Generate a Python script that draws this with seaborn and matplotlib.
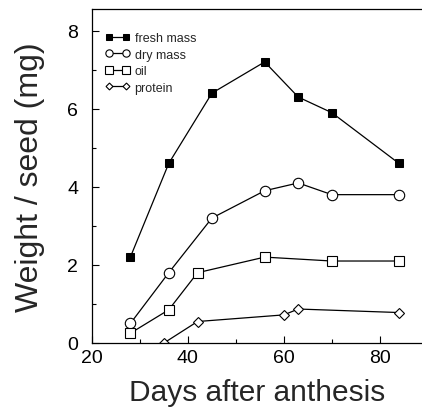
import matplotlib
matplotlib.use("Agg")
import matplotlib.pyplot as plt
import seaborn as sns
import pandas as pd
from matplotlib.ticker import MultipleLocator

# Data
fresh_days = [28, 36, 45, 56, 63, 70, 84]
fresh_mass = [2.2, 4.6, 6.4, 7.2, 6.3, 5.9, 4.6]
dry_days = [28, 36, 45, 56, 63, 70, 84]
dry_mass = [0.5, 1.8, 3.2, 3.9, 4.1, 3.8, 3.8]
oil_days = [28, 36, 42, 56, 70, 84]
oil_mass = [0.25, 0.85, 1.8, 2.2, 2.1, 2.1]
protein_days = [35, 42, 60, 63, 84]
protein_mass = [0.0, 0.55, 0.72, 0.87, 0.78]

x_ticks = [20, 40, 60, 80]
y_ticks = [0, 2, 4, 6, 8]

sns.set_style("ticks")
plt.rcParams['font.family'] = ['Liberation Sans', 'DejaVu Sans']

fig = plt.figure(figsize=(4.22, 4.10), dpi=100)
ax = fig.add_axes([0.218, 0.161, 0.782, 0.815])

common = dict(color='black', linewidth=0.9, ax=ax, estimator=None)
sns.lineplot(x=fresh_days, y=fresh_mass, marker='s', markersize=6,
             markerfacecolor='black', markeredgecolor='black', label='fresh mass', **common)
sns.lineplot(x=dry_days, y=dry_mass, marker='o', markersize=7.5,
             markerfacecolor='white', markeredgecolor='black', markeredgewidth=0.8,
             label='dry mass', **common)
sns.lineplot(x=oil_days, y=oil_mass, marker='s', markersize=7.5,
             markerfacecolor='white', markeredgecolor='black', markeredgewidth=0.8,
             label='oil', **common)
sns.lineplot(x=protein_days, y=protein_mass, marker='D', markersize=5,
             markerfacecolor='white', markeredgecolor='black', markeredgewidth=0.8,
             label='protein', **common)

ax.set_xlim(20, 88.8)
ax.set_ylim(0, 8.56)
ax.set_xticks(x_ticks)
ax.set_yticks(y_ticks)
ax.xaxis.set_minor_locator(MultipleLocator(10))
ax.yaxis.set_minor_locator(MultipleLocator(1))
ax.tick_params(which='both', direction='in', colors='black', labelsize=14)
ax.tick_params(which='major', length=5, width=0.8)
ax.tick_params(which='minor', length=3, width=0.8)
ax.tick_params(axis='x', pad=4)
ax.tick_params(axis='y', pad=10)

ax.spines['right'].set_visible(False)
for s in ['left', 'bottom', 'top']:
    ax.spines[s].set_linewidth(0.9)
    ax.spines[s].set_color('black')

ax.set_xlabel('Days after anthesis', fontsize=21.5, labelpad=9)
ax.set_ylabel('Weight / seed (mg)', fontsize=23, labelpad=16)

leg = ax.legend(loc='upper left', bbox_to_anchor=(0.04, 0.93), frameon=False,
                fontsize=9, numpoints=2, handlelength=2.0, handletextpad=0.35,
                labelspacing=0.36, borderaxespad=0.0, borderpad=0.0, markerscale=0.7)

fig.savefig('out.png', dpi=100)
